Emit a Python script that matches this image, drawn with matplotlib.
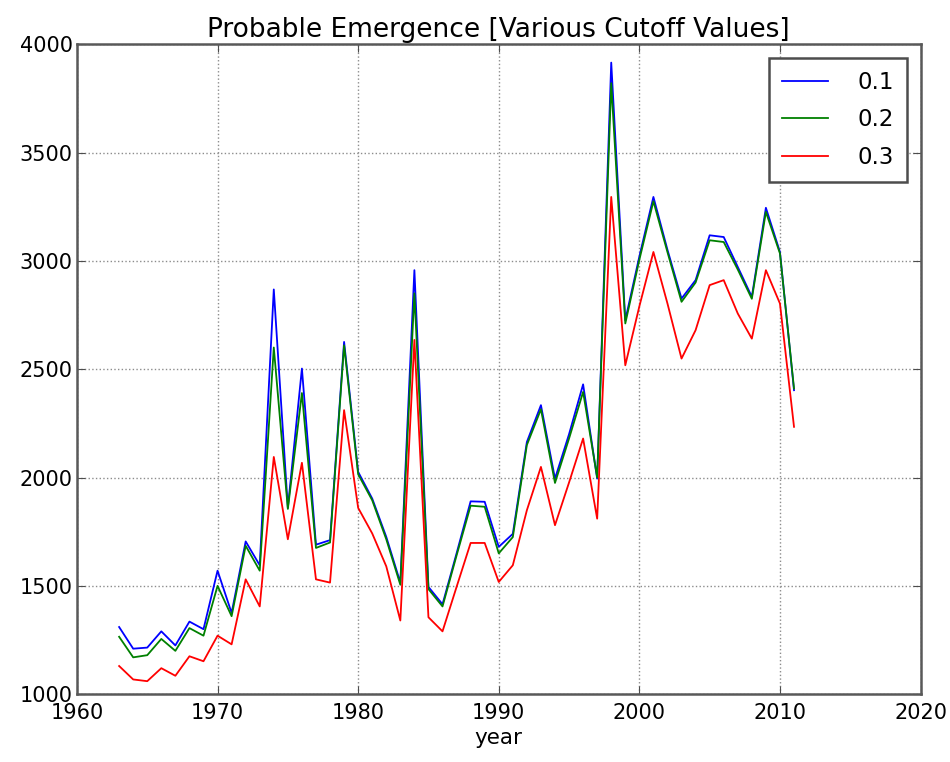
import matplotlib

matplotlib.use("Agg")

import matplotlib.pyplot as plt  # noqa: E402

# Yearly emergence counts for three probability cutoffs
years = list(range(1963, 2012))

cut_01 = [1310, 1210, 1215, 1290, 1225, 1335, 1300, 1570, 1375, 1705,
          1595, 2868, 1860, 2503, 1690, 1711, 2626, 2026, 1903, 1726,
          1515, 2957, 1495, 1415, 1650, 1890, 1888, 1680, 1740, 2164,
          2334, 1995, 2200, 2430, 1995, 3915, 2726, 3020, 3295, 3051,
          2826, 2911, 3118, 3110, 2972, 2834, 3245, 3041, 2403]

cut_02 = [1265, 1170, 1180, 1255, 1200, 1305, 1270, 1500, 1360, 1685,
          1570, 2600, 1855, 2390, 1675, 1700, 2610, 2015, 1895, 1715,
          1505, 2850, 1485, 1405, 1640, 1870, 1865, 1650, 1725, 2150,
          2315, 1975, 2180, 2395, 2000, 3820, 2711, 3005, 3275, 3040,
          2811, 2900, 3095, 3087, 2960, 2825, 3226, 3034, 2411]

cut_03 = [1130, 1068, 1060, 1120, 1085, 1175, 1152, 1270, 1230, 1530,
          1405, 2095, 1715, 2068, 1530, 1515, 2311, 1860, 1742, 1590,
          1340, 2635, 1355, 1290, 1495, 1698, 1698, 1518, 1595, 1849,
          2049, 1780, 1977, 2180, 1810, 3295, 2518, 2790, 3041, 2803,
          2549, 2680, 2888, 2911, 2757, 2641, 2957, 2803, 2234]

series = [("0.1", cut_01, "b"), ("0.2", cut_02, "g"), ("0.3", cut_03, "r")]

fig = plt.figure(figsize=(9.5, 7.62), dpi=100)
ax = fig.add_axes([0.081, 0.089, 0.888, 0.853])

for label, values, color in series:
    ax.plot(years, values, color=color, linewidth=1.3, label=label)

ax.set_xlim(1960, 2020)
ax.set_ylim(1000, 4000)
ax.set_xticks(range(1960, 2021, 10))
ax.set_yticks(range(1000, 4001, 500))
ax.tick_params(direction="in", top=True, right=True, length=6,
               labelsize=15, color="0.3")
ax.tick_params(axis="x", pad=6)
ax.tick_params(axis="y", pad=3)
for spine in ax.spines.values():
    spine.set_linewidth(1.8)
    spine.set_color("0.35")
ax.grid(True, linestyle=":", color="0.55", linewidth=1.0)

ax.set_title("Probable Emergence [Various Cutoff Values]", fontsize=19, pad=5)
ax.set_xlabel("year", fontsize=15.5, labelpad=4)

leg = ax.legend(loc="upper right", fontsize=16.5, fancybox=False,
                framealpha=1, edgecolor="0.3", handlelength=2.0,
                handletextpad=1.3, labelspacing=0.65, borderpad=0.55,
                borderaxespad=0.6)
leg.get_frame().set_linewidth(1.8)

fig.savefig("out.png", dpi=100)
plt.close(fig)
